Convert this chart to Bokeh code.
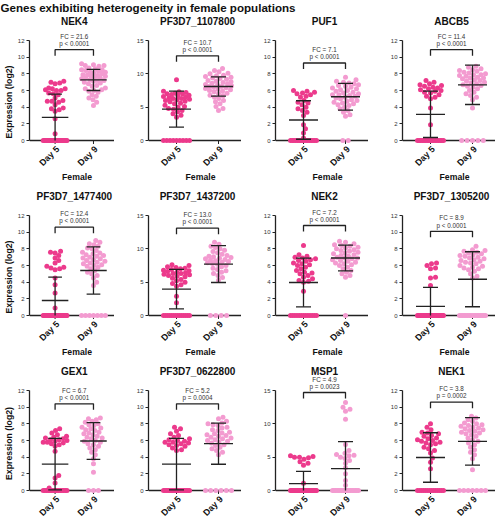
import math
from bokeh.plotting import figure
from bokeh.layouts import row, column
from bokeh.models import Range1d, FixedTicker, Span, Label, ColumnDataSource
from bokeh.core.properties import value
from bokeh.embed import file_html
from bokeh.resources import INLINE

# ---------------- data ----------------
TITLE = "Genes exhibiting heterogeneity in female populations"
GENES = ["NEK4", "PF3D7_1107800", "PUF1", "ABCB5",
         "PF3D7_1477400", "PF3D7_1437200", "NEK2", "PF3D7_1305200",
         "GEX1", "PF3D7_0622800", "MSP1", "NEK1"]
DAYS = ["Day 5", "Day 9"]
XLABEL = "Female"
YLABEL = "Expression (log2)"
Y_MAX = [12, 15, 12, 12, 12, 15, 12, 12, 12, 12, 15, 12]
YTICKS_12 = [0, 2, 4, 6, 8, 10, 12]
YTICKS_15 = [0, 5, 10, 15]
FC = ["21.6", "10.7", "7.1", "11.4", "12.4", "13.0", "7.2", "8.9", "6.7", "5.2", "4.9", "3.8"]
P_TEXT = ["p < 0.0001", "p < 0.0001", "p < 0.0001", "p < 0.0001",
          "p < 0.0001", "p < 0.0001", "p < 0.0001", "p < 0.0001",
          "p < 0.0001", "p = 0.0004", "p = 0.0023", "p = 0.0002"]
BRACKET = [10.9, 12.7, 9.3, 10.9, 10.6, 13.1, 10.8, 10.1, 10.4, 10.4, 14.7, 10.6]

MEAN_D5 = [2.78, 4.72, 2.46, 3.14, 1.80, 3.96, 3.96, 1.10, 3.17, 3.17, 1.04, 3.96]
SD_D5 = [2.78, 2.70, 2.31, 2.78, 2.80, 2.97, 2.92, 2.27, 3.09, 3.09, 1.83, 2.97]
MEAN_D9 = [7.27, 8.10, 5.25, 6.68, 5.40, 7.72, 6.90, 4.35, 5.94, 5.62, 3.27, 5.90]
SD_D9 = [1.27, 1.43, 1.61, 2.36, 2.83, 2.77, 1.55, 3.30, 2.20, 2.47, 4.06, 2.85]

ZEROS_D5 = [21, 9, 16, 17, 34, 14, 13, 31, 15, 18, 32, 14]
ZEROS_D9 = [0, 0, 2, 5, 7, 4, 1, 17, 3, 6, 18, 7]

NEK4_D5 = [7.1, 7.0, 6.9, 6.8, 6.3, 6.2, 6.2, 6.1, 6.0, 6.0, 5.7, 5.6, 5.5, 5.1, 4.8,
           4.7, 4.7, 4.6, 4.3, 3.9, 3.8, 3.7, 3.5, 2.6, 0.8]
NEK4_D9 = [9.2, 9.1, 9.0, 9.0, 8.9, 8.7, 8.6, 8.5, 8.5, 8.4, 8.3, 8.2, 8.2, 8.1, 8.0,
           7.9, 7.9, 7.8, 7.7, 7.7, 7.6, 7.5, 7.5, 7.4, 7.3, 7.2, 7.2, 7.1, 7.0, 6.9,
           6.8, 6.6, 6.5, 6.3, 6.2, 6.1, 6.0, 5.9, 5.8, 5.5, 5.3, 5.1, 4.9, 4.6, 4.2]
PF1107800_D5 = [9.1, 7.4, 7.3, 7.2, 7.1, 7.0, 7.0, 6.9, 6.8, 6.7, 6.6, 6.5, 6.4, 6.3,
                6.3, 6.2, 6.1, 6.0, 5.9, 5.8, 5.6, 5.5, 5.3, 5.1, 5.0, 4.8, 4.7, 4.5,
                4.3, 4.0, 3.8, 3.5]
PF1107800_D9 = [10.8, 10.5, 10.3, 10.1, 10.0, 9.8, 9.7, 9.6, 9.5, 9.4, 9.3, 9.2, 9.0,
                8.9, 8.8, 8.7, 8.6, 8.5, 8.4, 8.3, 8.2, 8.1, 8.1, 8.0, 7.9, 7.8, 7.7,
                7.6, 7.5, 7.4, 7.3, 7.1, 7.0, 6.8, 6.7, 6.5, 6.3, 6.0, 5.8, 5.5, 5.1,
                4.8, 4.5]
PUF1_D5 = [6.0, 5.9, 5.8, 5.7, 5.6, 5.5, 5.3, 5.2, 4.8, 4.6, 4.5, 4.3, 4.0, 3.8, 3.6,
           3.4, 3.0, 1.9, 1.4, 0.9, 0.3]
PUF1_D9 = [7.6, 7.3, 7.1, 7.0, 6.9, 6.8, 6.7, 6.6, 6.5, 6.4, 6.3, 6.2, 6.1, 6.0, 5.9,
           5.8, 5.7, 5.6, 5.5, 5.5, 5.4, 5.3, 5.2, 5.1, 5.0, 4.9, 4.8, 4.7, 4.6, 4.5,
           4.4, 4.3, 4.2, 4.0, 3.8, 3.6, 3.4, 3.1, 2.9]
ABCB5_D5 = [7.2, 7.0, 6.8, 6.7, 6.6, 6.5, 6.4, 6.3, 6.2, 6.1, 6.0, 5.9, 5.8, 5.7, 5.5,
            5.3, 5.2, 5.0, 3.9, 1.9]
ABCB5_D9 = [8.9, 8.8, 8.6, 8.5, 8.4, 8.3, 8.2, 8.1, 8.0, 7.9, 7.9, 7.8, 7.7, 7.6, 7.5,
            7.5, 7.4, 7.3, 7.2, 7.1, 7.0, 6.9, 6.8, 6.7, 6.6, 6.5, 6.4, 6.2, 6.0, 5.8,
            5.6, 5.4, 5.2, 4.9, 3.9]
PF1477400_D5 = [7.7, 7.6, 7.5, 7.2, 6.9, 6.6, 6.3, 5.9, 5.8, 5.7, 5.6, 5.5, 4.5, 3.7,
                2.7, 0.9]
PF1477400_D9 = [9.0, 8.8, 8.6, 8.5, 8.3, 8.1, 8.0, 7.8, 7.6, 7.5, 7.4, 7.3, 7.2, 7.1,
                7.0, 6.9, 6.8, 6.7, 6.6, 6.5, 6.4, 6.3, 6.2, 6.1, 6.0, 5.9, 5.8, 5.6,
                5.4, 5.2, 5.0, 4.8, 4.5, 4.0, 3.6]
PF1437200_D5 = [7.6, 7.5, 7.3, 7.2, 7.1, 7.0, 6.9, 6.8, 6.7, 6.6, 6.5, 6.4, 6.3, 6.3,
                6.2, 6.1, 6.0, 5.9, 5.8, 5.6, 5.4, 5.2, 5.0, 4.8, 4.6, 4.4, 2.9, 1.9]
PF1437200_D9 = [11.0, 10.7, 10.4, 10.2, 10.0, 9.8, 9.6, 9.4, 9.2, 9.0, 8.9, 8.8, 8.7,
                8.6, 8.5, 8.4, 8.3, 8.2, 8.1, 8.0, 7.9, 7.8, 7.7, 7.5, 7.3, 7.1, 6.9,
                6.7, 6.5, 6.3, 6.0, 5.7, 5.3]
NEK2_D5 = [8.4, 7.3, 7.1, 7.0, 6.9, 6.8, 6.7, 6.6, 6.5, 6.3, 6.2, 6.1, 6.0, 5.8, 5.6,
           5.4, 5.2, 5.1, 5.0, 4.8, 4.6, 4.4, 4.2, 4.1, 4.0, 2.9]
NEK2_D9 = [8.9, 8.8, 8.6, 8.5, 8.4, 8.3, 8.2, 8.1, 8.0, 7.9, 7.8, 7.7, 7.6, 7.5, 7.4,
           7.3, 7.2, 7.1, 7.0, 6.9, 6.9, 6.8, 6.7, 6.6, 6.5, 6.4, 6.3, 6.2, 6.1, 6.0,
           5.8, 5.6, 5.4, 5.2, 5.0, 4.8, 4.6]
PF1305200_D5 = [6.3, 6.2, 6.0, 5.7, 5.6, 4.6, 4.5, 3.6]
PF1305200_D9 = [8.3, 7.9, 7.8, 7.7, 7.6, 7.5, 7.4, 7.3, 7.2, 7.1, 7.0, 6.9, 6.8, 6.7,
                6.6, 6.5, 6.4, 6.3, 6.2, 6.0, 5.9, 5.8, 5.7, 5.6, 5.5, 5.3, 5.0, 4.7,
                4.5]
GEX1_D5 = [7.4, 7.2, 6.9, 6.7, 6.5, 6.4, 6.3, 6.2, 6.1, 6.1, 6.0, 5.9, 5.8, 5.8, 5.7,
           5.6, 5.5, 5.3, 4.7, 1.8, 1.5, 0.9, 0.3]
GEX1_D9 = [8.7, 8.6, 8.5, 8.3, 8.2, 8.0, 7.9, 7.8, 7.6, 7.5, 7.4, 7.3, 7.2, 7.0, 6.9,
           6.8, 6.7, 6.5, 6.4, 6.3, 6.2, 6.0, 5.9, 5.8, 5.6, 5.5, 5.3, 5.1, 4.9, 4.6,
           4.3, 3.8, 3.2, 2.2]
PF0622800_D5 = [7.6, 7.4, 7.1, 6.8, 6.6, 6.4, 6.2, 6.1, 6.0, 5.9, 5.8, 5.8, 5.7, 5.6,
                5.5, 5.4, 5.3, 5.1, 4.9, 4.8]
PF0622800_D9 = [8.8, 8.6, 8.3, 8.1, 8.0, 7.9, 7.8, 7.6, 7.5, 7.3, 7.2, 7.0, 6.9, 6.8,
                6.7, 6.6, 6.5, 6.4, 6.3, 6.2, 6.1, 6.0, 5.9, 5.8, 5.7, 5.5, 5.4, 5.2,
                5.0, 4.8, 4.6, 4.3]
MSP1_D5 = [5.2, 5.1, 5.0, 5.0, 4.9, 4.7, 4.3, 4.1, 3.8, 1.1]
MSP1_D9 = [13.2, 12.5, 12.2, 11.9, 10.7, 6.9, 6.0, 5.6, 5.4, 5.3, 5.2, 5.0, 4.8, 4.5,
           4.1, 3.4, 2.5, 1.5, 0.8]
NEK1_D5 = [8.0, 7.6, 7.3, 7.0, 6.9, 6.8, 6.6, 6.5, 6.3, 6.2, 6.1, 6.0, 5.9, 5.8, 5.7,
           5.6, 5.5, 5.2, 5.0, 4.8, 4.5, 3.9, 3.4, 2.6]
NEK1_D9 = [8.9, 8.7, 8.5, 8.3, 8.1, 8.0, 7.9, 7.8, 7.7, 7.6, 7.5, 7.4, 7.3, 7.2, 7.1,
           7.0, 6.9, 6.8, 6.7, 6.5, 6.3, 6.1, 5.9, 5.7, 5.5, 5.2, 4.9, 4.6, 4.3, 3.8,
           2.5]

VALUES_D5 = [NEK4_D5, PF1107800_D5, PUF1_D5, ABCB5_D5, PF1477400_D5, PF1437200_D5,
             NEK2_D5, PF1305200_D5, GEX1_D5, PF0622800_D5, MSP1_D5, NEK1_D5]
VALUES_D9 = [NEK4_D9, PF1107800_D9, PUF1_D9, ABCB5_D9, PF1477400_D9, PF1437200_D9,
             NEK2_D9, PF1305200_D9, GEX1_D9, PF0622800_D9, MSP1_D9, NEK1_D9]

# ---------------- styling / layout ----------------
FONT = "Liberation Sans"
C_D5 = "#EC3A8C"
C_D9 = "#F39BD0"
C_LINE = "#222222"
TOTAL_W = 495
TOP_H = 14
ROW_H = [175, 175, 158]
Y0_PX = 126      # pixel row (from figure top) of value 0
YMAX_PX = 26     # pixel row of the top tick
FW = 93          # frame width
D5X = 28.0       # px from frame left to Day 5
PPX = 42.0       # px between Day 5 and Day 9
LEFT0 = 21
PITCH = 127
DOT = 5.0


def swarm(vals, nzero, ppu):
    maxoff = 13.0
    xs, ys = [], []
    if nzero > 0:
        if nzero == 1:
            offs = [0.0]
        else:
            step = min(DOT + 0.4, 2 * maxoff / (nzero - 1))
            w = step * (nzero - 1)
            offs = [-w / 2 + k * step for k in range(nzero)]
        for o in offs:
            xs.append(o)
            ys.append(0.0)
    placed = [(o, 0.0) for o in xs]
    cands = [0.0]
    k = 1
    while k * 0.5 <= maxoff:
        cands += [k * 0.5, -k * 0.5]
        k += 1
    for v in sorted(vals):
        yp = v * ppu
        best, bo, bestd = None, 0.0, -1.0
        for o in cands:
            dmin = min([math.hypot(o - px, yp - py) for px, py in placed] or [99.0])
            if dmin >= DOT * 0.92:
                best = o
                break
            if dmin > bestd:
                bestd, bo = dmin, o
        if best is None:
            best = bo
        placed.append((best, yp))
        xs.append(best)
        ys.append(v)
    return xs, ys


def make_panel(i, r, c):
    ymax = Y_MAX[i]
    ppu = (Y0_PX - YMAX_PX) / ymax
    left = LEFT0 if c == 0 else PITCH - FW
    h = ROW_H[r]
    p = figure(width=left + FW, height=h, output_backend="svg", toolbar_location=None,
               x_range=Range1d(1 - D5X / PPX, 1 + (FW - D5X) / PPX),
               y_range=Range1d((Y0_PX - h) / ppu, Y0_PX / ppu),
               x_axis_location=None,
               min_border_left=left, min_border_right=0, min_border_top=0,
               min_border_bottom=0)
    p.outline_line_color = None
    p.grid.visible = False
    p.background_fill_color = "white"
    p.border_fill_color = "white"

    # y axis
    ya = p.yaxis[0]
    ya.ticker = FixedTicker(ticks=YTICKS_12 if ymax == 12 else YTICKS_15)
    ya.bounds = (0, ymax)
    ya.axis_line_color = C_LINE
    ya.axis_line_width = 1.3
    ya.major_tick_line_color = C_LINE
    ya.major_tick_line_width = 1.0
    ya.major_tick_in = 0
    ya.major_tick_out = 3
    ya.minor_tick_line_color = None
    ya.major_label_text_font = FONT
    ya.major_label_text_font_size = "6px"
    ya.major_label_text_color = "#333333"
    ya.major_label_standoff = 2
    if c == 0:
        ya.axis_label = YLABEL
        ya.axis_label_text_font = FONT
        ya.axis_label_text_font_style = "bold"
        ya.axis_label_text_font_size = "8.7px"
        ya.axis_label_text_color = "#111111"
        ya.axis_label_standoff = 1

    # x axis line at 0, tick marks and rotated day names
    p.add_layout(Span(location=0, dimension="width", line_color=C_LINE,
                      line_width=1.3, level="underlay"))
    day_x = [1, 2]
    p.segment(x0=day_x, y0=[0, 0], x1=day_x, y1=[-3.5 / ppu] * 2,
              line_color=C_LINE, line_width=1.0)
    p.text(x=[d + 3.0 / PPX for d in day_x], y=[-7.0 / ppu] * 2, text=DAYS,
           angle=math.pi / 4, text_align="right", text_baseline="middle",
           text_font=value(FONT), text_font_style="bold", text_font_size="9px",
           text_color="#111111")
    if r < 2:
        p.add_layout(Label(x=1.5 + 3.0 / PPX, y=(Y0_PX - 162) / ppu, text=XLABEL,
                           text_align="center", text_baseline="middle",
                           text_font=FONT, text_font_style="bold", text_font_size="8.7px",
                           text_color="#111111"))

    # points
    for day, vals, nz, col in ((1, VALUES_D5[i], ZEROS_D5[i], C_D5),
                               (2, VALUES_D9[i], ZEROS_D9[i], C_D9)):
        xo, yv = swarm(vals, nz, ppu)
        src = ColumnDataSource(dict(x=[day + o / PPX for o in xo], y=yv))
        p.scatter("x", "y", source=src, size=DOT, fill_color=col, line_color=None)

    # mean and SD bars
    mw = 14.5 / PPX
    cw = 7.5 / PPX
    x0, y0, x1, y1 = [], [], [], []
    for day, m, s in ((1, MEAN_D5[i], SD_D5[i]), (2, MEAN_D9[i], SD_D9[i])):
        lo = max(0.0, m - s)
        hi = m + s
        x0 += [day - mw, day, day - cw]
        x1 += [day + mw, day, day + cw]
        y0 += [m, lo, hi]
        y1 += [m, hi, hi]
        if m - s > 0.05:
            x0.append(day - cw); x1.append(day + cw); y0.append(lo); y1.append(lo)
    p.segment(x0=x0, y0=y0, x1=x1, y1=y1, line_color=C_LINE, line_width=1.3)

    # bracket
    b = BRACKET[i]
    drop = 6.0 / ppu
    p.multi_line(xs=[[1, 1, 2, 2]], ys=[[b - drop, b, b, b - drop]],
                 line_color=C_LINE, line_width=1.3)
    p.add_layout(Label(x=1.5, y=b + 13.5 / ppu, text="FC = " + FC[i],
                       text_align="center", text_baseline="middle",
                       text_font=FONT, text_font_size="6.3px", text_color="#333333"))
    p.add_layout(Label(x=1.5, y=b + 6.3 / ppu, text=P_TEXT[i],
                       text_align="center", text_baseline="middle",
                       text_font=FONT, text_font_size="6.3px", text_color="#333333"))
    # panel title
    p.add_layout(Label(x=1.5, y=(Y0_PX - 7) / ppu, text=GENES[i],
                       text_align="center", text_baseline="middle",
                       text_font=FONT, text_font_style="bold", text_font_size="10px",
                       text_color="#111111"))
    return p


top = figure(width=TOTAL_W, height=TOP_H, output_backend="svg", toolbar_location=None,
             x_range=Range1d(0, TOTAL_W), y_range=Range1d(0, TOP_H),
             x_axis_type=None, y_axis_type=None, min_border=0)
top.outline_line_color = None
top.grid.visible = False
top.add_layout(Label(x=0, y=TOP_H / 2, text=TITLE, text_align="left",
                     text_baseline="middle", text_font=FONT, text_font_style="bold",
                     text_font_size="11.6px", text_color="#111111"))

rows = []
for r in range(3):
    rows.append(row(*[make_panel(r * 4 + c, r, c) for c in range(4)]))

layout = column(top, *rows)
open("out.html", "w").write(file_html(layout, INLINE))
